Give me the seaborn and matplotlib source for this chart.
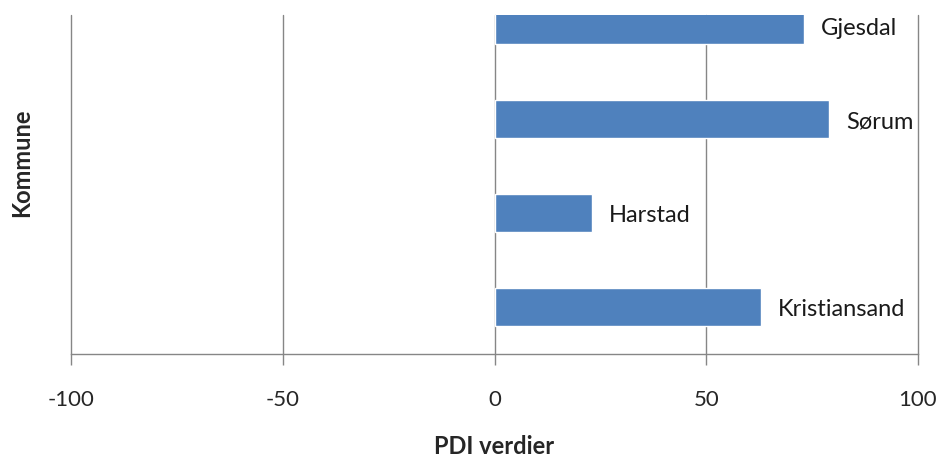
import matplotlib
matplotlib.use("Agg")
import matplotlib.pyplot as plt
import seaborn as sns
import pandas as pd

# Data
kommuner = ["Gjesdal", "Sørum", "Harstad", "Kristiansand"]
pdi_verdier = [73, 79, 23, 63]
x_ticks = [-100, -50, 0, 50, 100]

df = pd.DataFrame({"Kommune": kommuner, "PDI": pdi_verdier})

sns.set_style("white")
plt.rcParams["font.family"] = ["Lato", "DejaVu Sans"]

fig = plt.figure(figsize=(9.43, 4.61), dpi=100)
ax = fig.add_axes([0.0753, 0.2321, 0.8982, 0.7354])

sns.barplot(data=df, x="PDI", y="Kommune", color="#4F81BD", width=0.4,
            saturation=1, ax=ax, zorder=3)

# Labels to the right of each bar
for i, (name, v) in enumerate(zip(kommuner, pdi_verdier)):
    ax.text(v + 4, i + 0.03, name, va="center", ha="left", fontsize=17, color="#1a1a1a", zorder=4)

ax.set_xlim(-100, 100)
ax.set_ylim(3.5, -0.11)
ax.set_xticks(x_ticks)
ax.set_xticklabels([str(t) for t in x_ticks], fontsize=16)
ax.set_yticks([])

ax.grid(axis="x", color="#868686", linewidth=1, zorder=0)
for line in ax.get_xgridlines():
    line.set_clip_on(False)
for s in ["top", "right", "left"]:
    ax.spines[s].set_visible(False)
ax.spines["bottom"].set_color("#868686")
ax.spines["bottom"].set_linewidth(1)
ax.tick_params(axis="x", direction="out", length=8, color="#868686", width=1, pad=18, bottom=True)

ax.set_xlabel("PDI verdier", fontsize=17, fontweight="bold")
ax.xaxis.set_label_coords(0.5, -0.24)
ax.set_ylabel("Kommune", fontsize=17, fontweight="bold")
ax.yaxis.set_label_coords(-0.045, 0.563)

fig.savefig("out.png", dpi=100)
